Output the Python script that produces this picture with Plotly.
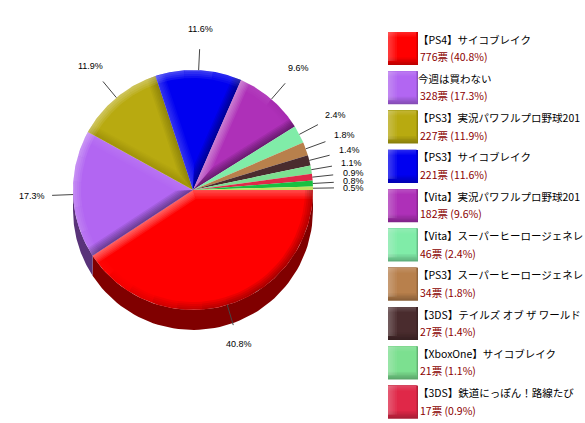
#! python
# -*- coding: utf-8 -*-

'''
Weekly game poll drawn as a 3D looking pie with a swatch list on the right.
The pie is built from filled scatter polygons so the bevel can be layered.
'''

import numpy as np
import plotly.graph_objects as go

names = ['【PS4】サイコブレイク', '今週は買わない', '【PS3】実況パワフルプロ野球201',
         '【PS3】サイコブレイク', '【Vita】実況パワフルプロ野球201',
         '【Vita】スーパーヒーロージェネレ', '【PS3】スーパーヒーロージェネレ',
         '【3DS】テイルズ オブ ザ ワールド', '【XboxOne】サイコブレイク',
         '【3DS】鉄道にっぽん！路線たび']
votes = [776, 328, 227, 221, 182, 46, 34, 27, 21, 17, 15, 9]
shares = [40.8, 17.3, 11.9, 11.6, 9.6, 2.4, 1.8, 1.4, 1.1, 0.9, 0.8, 0.5]
colors = ['#ff0000', '#b266f2', '#b8aa10', '#0000f0', '#ae30b8', '#80eca8',
          '#b8804c', '#4a2c2e', '#7ce090', '#e02848', '#18c040', '#c0e060']

# pie geometry in pixels
cx, cy, radius, depth = 193, 190, 120, 20
white = np.array([255.0, 255.0, 255.0])
black = np.zeros(3)
light_dir = np.array([-1.0, -1.0]) / np.sqrt(2)


def rgb(hex_color):
    return np.array([int(hex_color[i:i+2], 16) for i in (1, 3, 5)], dtype=float)


def mix(c1, c2, t):
    c = c1 * (1 - t) + c2 * t
    return 'rgb({:.0f},{:.0f},{:.0f})'.format(*c)


def tint(facing, strength):
    # white on edges turned to the light, black on the ones turned away
    shade = '255,255,255' if facing > 0 else '0,0,0'
    return 'rgba({},{:.3f})'.format(shade, abs(facing) * strength)


def poly(xs, ys, color):
    return go.Scatter(x=xs, y=ys, mode='lines', fill='toself', fillcolor=color,
                      line=dict(width=0), hoverinfo='skip', showlegend=False)


fig = go.Figure()

fractions = np.array(votes) / sum(votes)
edges = np.r_[0, np.cumsum(fractions)] * 2 * np.pi
mids = (edges[:-1] + edges[1:]) / 2

# side wall, only the front half shows
for i in range(len(votes)):
    t0, t1 = edges[i], edges[i + 1]
    if t0 >= np.pi:
        continue
    ts = np.linspace(t0, min(t1, np.pi), 60)
    xs = np.r_[cx + radius * np.cos(ts), cx + radius * np.cos(ts[::-1])]
    ys = np.r_[cy + radius * np.sin(ts), cy + depth + radius * np.sin(ts[::-1])]
    fig.add_trace(poly(xs, ys, mix(rgb(colors[i]), black, 0.5)))

# top face
for i in range(len(votes)):
    t0, t1 = edges[i], edges[i + 1]
    ts = np.linspace(t0, t1, max(int((t1 - t0) * 60), 4))
    fig.add_trace(poly(np.r_[cx, cx + radius * np.cos(ts), cx],
                       np.r_[cy, cy + radius * np.sin(ts), cy], colors[i]))
    if fractions[i] < 0.05:
        continue
    # bevel along the two straight edges
    half = (t1 - t0) / 2
    for t, side in ((t0, 1), (t1, -1)):
        inward = side * np.array([-np.sin(t), np.cos(t)])
        facing = float(np.dot(-inward, light_dir))
        for step in range(1, 7):
            thick = step * 1.5
            inner = thick / np.sin(min(half, np.pi / 2))
            xs = [cx, cx + radius * np.cos(t), cx + radius * np.cos(t + side * thick / radius),
                  cx + inner * np.cos(t0 + half)]
            ys = [cy, cy + radius * np.sin(t), cy + radius * np.sin(t + side * thick / radius),
                  cy + inner * np.sin(t0 + half)]
            fig.add_trace(poly(xs, ys, tint(facing, 0.075)))
    # bevel along the arc, cut in pieces because the shade turns with the arc
    pieces = max(int((t1 - t0) / np.radians(12)), 1)
    cuts = np.linspace(t0, t1, pieces + 1)
    for a, b in zip(cuts[:-1], cuts[1:]):
        m = (a + b) / 2
        facing = float(np.dot([np.cos(m), np.sin(m)], light_dir))
        for step in range(1, 5):
            thick = step * 2.0
            ts = np.linspace(a, b, 8)
            xs = np.r_[cx + radius * np.cos(ts), cx + (radius - thick) * np.cos(ts[::-1])]
            ys = np.r_[cy + radius * np.sin(ts), cy + (radius - thick) * np.sin(ts[::-1])]
            fig.add_trace(poly(xs, ys, tint(facing, 0.09)))

# leader lines and percent labels, small slices get pushed apart
label_x = cx + 161 * np.cos(mids)
label_y = cy + 161 * np.sin(mids)
for i in range(len(votes) - 2, 4, -1):
    label_y[i] = min(label_y[i], label_y[i + 1] - 7)
for i in range(len(votes)):
    fig.add_trace(go.Scatter(
        x=[cx + radius * np.cos(mids[i]), cx + 141 * np.cos(mids[i])],
        y=[cy + radius * np.sin(mids[i]), cy + 141 * np.sin(mids[i])],
        mode='lines', line=dict(color='#444444', width=1), hoverinfo='skip', showlegend=False))
    fig.add_annotation(x=label_x[i], y=label_y[i], text='{:.1f}%'.format(shares[i]),
                       showarrow=False, font=dict(family='Liberation Sans', size=9, color='black'))

# swatch list, soft dark fade at the bottom and light fade at top and left
swatch_x, swatch_y, swatch_w, swatch_h, row_step = 388, 32, 30, 33, 39.3
shapes = []
for i in range(len(names)):
    top = swatch_y + i * row_step
    base = rgb(colors[i])
    for step in range(6):
        shapes.append(dict(type='rect', x0=swatch_x, x1=swatch_x + swatch_w - step * 0.4,
                           y0=top, y1=top + swatch_h - step * 1.5,
                           fillcolor=mix(base, black, 0.25 * (1 - step / 5)), line_width=0, layer='below'))
    for step in range(5):
        shapes.append(dict(type='rect', x0=swatch_x, x1=swatch_x + 9 - step * 1.8,
                           y0=top, y1=top + swatch_h - 4,
                           fillcolor='rgba(255,255,255,0.05)', line_width=0, layer='below'))
        shapes.append(dict(type='rect', x0=swatch_x, x1=swatch_x + swatch_w - 2,
                           y0=top, y1=top + 5 - step,
                           fillcolor='rgba(255,255,255,0.03)', line_width=0, layer='below'))
    fig.add_annotation(x=swatch_x + swatch_w - 2, y=top + 7, text=names[i], xanchor='left', showarrow=False,
                       font=dict(family='Noto Sans CJK JP', size=10.5, color='black'))
    fig.add_annotation(x=swatch_x + swatch_w, y=top + 24.5, xanchor='left', showarrow=False,
                       text='{}票 ({:.1f}%)'.format(votes[i], shares[i]),
                       font=dict(family='Noto Sans CJK JP', size=10.5, color='#8b0000'))

fig.update_layout(
    shapes=shapes,
    margin=dict(l=0, r=0, t=0, b=0),
    paper_bgcolor='white',
    plot_bgcolor='white',
    xaxis=dict(range=[0, 585], visible=False, fixedrange=True),
    yaxis=dict(range=[423, 0], visible=False, fixedrange=True),
    showlegend=False,
    width=585,
    height=423,
)

# page margin would push the figure 8px off
fig.write_html("out.html", config=dict(displayModeBar=False),
               post_script="document.body.style.margin='0';")
